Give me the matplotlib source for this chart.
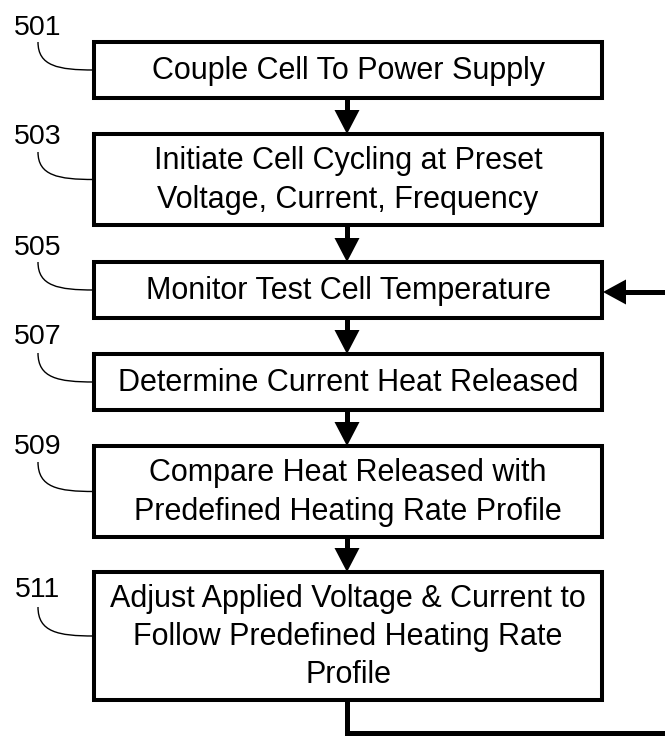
import matplotlib.pyplot as plt
from matplotlib.patches import Rectangle, Polygon, PathPatch
from matplotlib.path import Path

plt.rcParams['font.family'] = ['Liberation Sans', 'DejaVu Sans']

# flowchart content
labels = ['501', '503', '505', '507', '509', '511']
steps = [
    'Couple Cell To Power Supply',
    'Initiate Cell Cycling at Preset\nVoltage, Current, Frequency',
    'Monitor Test Cell Temperature',
    'Determine Current Heat Released',
    'Compare Heat Released with\nPredefined Heating Rate Profile',
    'Adjust Applied Voltage & Current to\nFollow Predefined Heating Rate\nProfile',
]

# layout (pixels, top-down)
box_left, box_right = 94, 602
box_tops = [42, 134, 262, 354, 446, 572]
box_bottoms = [98, 225, 318, 410, 537, 700]
label_y = [28, 137, 248, 337, 447, 590]
lead_start = [42, 152, 262, 353, 462, 607]
loop_row = 292

W, H = 665, 736
fig = plt.figure(figsize=(W / 100, H / 100), dpi=100)
ax = fig.add_axes([0, 0, 1, 1])
ax.set_xlim(0, W)
ax.set_ylim(H, 0)
ax.axis('off')

cx = (box_left + box_right) / 2
lw_box = 2.9
lw_arrow = 3.6


def arrow_down(x, y0, y1):
    hl, hw = 24, 12.5
    ax.plot([x, x], [y0, y1 - hl + 2], color='black', lw=lw_arrow, solid_capstyle='butt')
    ax.add_patch(Polygon([[x - hw, y1 - hl], [x + hw, y1 - hl], [x, y1]],
                         closed=True, color='black', lw=0))


for i, (lab, txt) in enumerate(zip(labels, steps)):
    top, bot = box_tops[i], box_bottoms[i]
    ax.add_patch(Rectangle((box_left, top), box_right - box_left, bot - top,
                           fill=False, ec='black', lw=lw_box, joinstyle='miter'))
    ax.text(cx, (top + bot) / 2 + 1, txt, ha='center', va='center',
            fontsize=22, linespacing=1.36)
    ax.text(38, label_y[i], lab, ha='center', va='center', fontsize=20.5)
    mid = (top + bot) / 2
    s = lead_start[i]
    path = Path([(38, s), (38, mid - 4), (58, mid), (box_left, mid)],
                [Path.MOVETO, Path.CURVE4, Path.CURVE4, Path.CURVE4])
    ax.add_patch(PathPatch(path, fill=False, ec='black', lw=1.0))
    if i + 1 < len(steps):
        arrow_down(cx - 1, bot, box_tops[i + 1])

# feedback loop from last box back to the monitor step
ax.plot([cx - 1, cx - 1, W + 5], [box_bottoms[-1], 733, 733], color='black',
        lw=lw_arrow, solid_joinstyle='miter')
ax.plot([W + 5, box_right + 22], [loop_row, loop_row], color='black', lw=lw_arrow,
        solid_capstyle='butt')
ax.add_patch(Polygon([[box_right + 24, loop_row - 12.5], [box_right + 24, loop_row + 12.5],
                      [box_right + 1, loop_row]], closed=True, color='black', lw=0))

fig.savefig('out.png', dpi=100)
